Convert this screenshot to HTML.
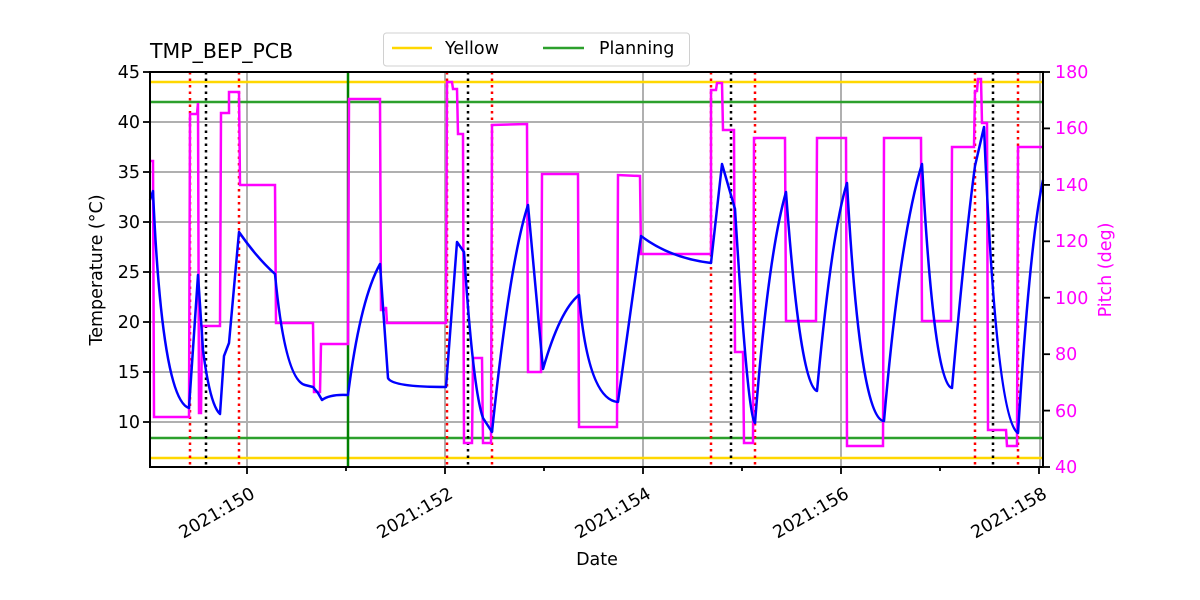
<!DOCTYPE html>
<html><head><meta charset="utf-8"><style>
html,body{margin:0;padding:0;background:#fff;}
svg{display:block;font-family:"DejaVu Sans","Liberation Sans",sans-serif;}
</style></head><body>
<svg width="1200" height="600" viewBox="0 0 1200 600" xmlns="http://www.w3.org/2000/svg">
<rect width="1200" height="600" fill="#fff"/>
<g stroke="#b0b0b0" stroke-width="2">
<line x1="150" y1="422" x2="1043" y2="422"/>
<line x1="150" y1="372" x2="1043" y2="372"/>
<line x1="150" y1="322" x2="1043" y2="322"/>
<line x1="150" y1="272" x2="1043" y2="272"/>
<line x1="150" y1="222" x2="1043" y2="222"/>
<line x1="150" y1="172" x2="1043" y2="172"/>
<line x1="150" y1="122" x2="1043" y2="122"/>
<line x1="247" y1="72" x2="247" y2="467"/>
<line x1="445" y1="72" x2="445" y2="467"/>
<line x1="643" y1="72" x2="643" y2="467"/>
<line x1="841" y1="72" x2="841" y2="467"/>
<line x1="1040" y1="72" x2="1040" y2="467"/>
</g>
<line x1="150" y1="82" x2="1043" y2="82" stroke="#ffd700" stroke-width="2.5"/>
<line x1="150" y1="458" x2="1043" y2="458" stroke="#ffd700" stroke-width="2.5"/>
<line x1="150" y1="102" x2="1043" y2="102" stroke="#2ca02c" stroke-width="2.5"/>
<line x1="150" y1="438" x2="1043" y2="438" stroke="#2ca02c" stroke-width="2.5"/>
<line x1="348" y1="72" x2="348" y2="467" stroke="#008000" stroke-width="2.5"/>
<g stroke="#ff0000" stroke-width="2.5" stroke-dasharray="2.5,4">
<line x1="190" y1="72" x2="190" y2="467"/>
<line x1="239" y1="72" x2="239" y2="467"/>
<line x1="447" y1="72" x2="447" y2="467"/>
<line x1="492" y1="72" x2="492" y2="467"/>
<line x1="711" y1="72" x2="711" y2="467"/>
<line x1="755" y1="72" x2="755" y2="467"/>
<line x1="975" y1="72" x2="975" y2="467"/>
<line x1="1018" y1="72" x2="1018" y2="467"/>
</g>
<g stroke="#000" stroke-width="2.5" stroke-dasharray="2.5,4">
<line x1="206" y1="72" x2="206" y2="467"/>
<line x1="468" y1="72" x2="468" y2="467"/>
<line x1="731" y1="72" x2="731" y2="467"/>
<line x1="993" y1="72" x2="993" y2="467"/>
</g>
<polyline fill="none" stroke="#ff00ff" stroke-width="2.5" stroke-linejoin="miter" points="
150,161 153,161 154,417 189,417 190,114 197,114 198,103 199,413 201,413 202,326 220,326 221,113 229,113 229,92 239,92 240,185 275,185 276,323 313,323 314,392 320,392 321,344 348,344 349,99 380,99 381,310 385,310 386,307 387,323 446,323 447,82 452,82 453,89 457,89 458,134 463,134 464,443 472,443 473,358 482,358 483,443 491,443 492,125 527,124 528,372 541,372 542,174 578,174 579,427 617,427 618,175 640,176 641,254 711,254 711,90 716,90 717,83 722,83 723,130 734,130 735,352 743,352 744,443 753,443 754,138 785,138 786,321 816,321 817,138 846,138 847,446 883,446 884,138 921,138 922,321 951,321 952,147 974,147 975,91 977,91 978,79 981,79 982,123 987,123 988,430 1006,430 1007,446 1017,446 1018,147 1043,147"/>
<path fill="none" stroke="#0000ff" stroke-width="2.5" stroke-linejoin="round" d="
M150,200 L153,191 Q162,400 189,408
L198,275 L203,350 Q210,405 220,414
L224,356 L229,343 L239,232 Q257,258 275,274
Q285,380 305,385 L313,387 L318,393 L322,400 Q330,394 348,395
Q360,300 380,264 L388,378 Q392,387 446,387
L457,242 L464,252 Q473,390 483,418 L492,432
Q510,260 528,205 L543,369 Q560,310 579,295
Q588,400 618,402 L641,236 Q670,258 711,263
L722,164 L735,209 Q748,420 755,423
Q768,255 786,192 Q800,385 817,391
Q832,230 847,183 Q860,420 884,421
Q900,235 922,164 Q934,385 952,388
Q965,240 975,166 L984,127 Q996,420 1018,433
Q1030,240 1043,180"/>
<rect x="150" y="72" width="893" height="395" fill="none" stroke="#000" stroke-width="2"/>
<g stroke="#000" stroke-width="1.8">
<line x1="143" y1="72" x2="150" y2="72"/><line x1="143" y1="122" x2="150" y2="122"/>
<line x1="143" y1="172" x2="150" y2="172"/><line x1="143" y1="222" x2="150" y2="222"/>
<line x1="143" y1="272" x2="150" y2="272"/><line x1="143" y1="322" x2="150" y2="322"/>
<line x1="143" y1="372" x2="150" y2="372"/><line x1="143" y1="422" x2="150" y2="422"/>
<line x1="1043" y1="72" x2="1050" y2="72"/><line x1="1043" y1="128.4" x2="1050" y2="128.4"/>
<line x1="1043" y1="184.9" x2="1050" y2="184.9"/><line x1="1043" y1="241.3" x2="1050" y2="241.3"/>
<line x1="1043" y1="297.7" x2="1050" y2="297.7"/><line x1="1043" y1="354.2" x2="1050" y2="354.2"/>
<line x1="1043" y1="410.6" x2="1050" y2="410.6"/><line x1="1043" y1="467" x2="1050" y2="467"/>
<line x1="247" y1="467" x2="247" y2="474"/><line x1="445" y1="467" x2="445" y2="474"/>
<line x1="643" y1="467" x2="643" y2="474"/><line x1="841" y1="467" x2="841" y2="474"/>
<line x1="1039" y1="467" x2="1039" y2="474"/>
<line x1="346" y1="467" x2="346" y2="471"/><line x1="544" y1="467" x2="544" y2="471"/>
<line x1="742" y1="467" x2="742" y2="471"/><line x1="940" y1="467" x2="940" y2="471"/>
</g>
<g font-size="17.5" fill="#000" text-anchor="end">
<text x="140" y="78">45</text><text x="140" y="128">40</text><text x="140" y="178">35</text>
<text x="140" y="228">30</text><text x="140" y="278">25</text><text x="140" y="328">20</text>
<text x="140" y="378">15</text><text x="140" y="428">10</text>
</g>
<g font-size="17.5" fill="#ff00ff">
<text x="1055" y="78">180</text><text x="1055" y="134">160</text><text x="1055" y="191">140</text>
<text x="1055" y="247">120</text><text x="1055" y="304">100</text><text x="1055" y="360">80</text>
<text x="1055" y="417">60</text><text x="1055" y="473">40</text>
</g>
<g font-size="17.5" fill="#000" text-anchor="end">
<text transform="translate(256,497) rotate(-30)">2021:150</text>
<text transform="translate(454,497) rotate(-30)">2021:152</text>
<text transform="translate(652,497) rotate(-30)">2021:154</text>
<text transform="translate(850,497) rotate(-30)">2021:156</text>
<text transform="translate(1048,497) rotate(-30)">2021:158</text>
</g>
<text x="597" y="565" font-size="17.5" text-anchor="middle">Date</text>
<text transform="translate(102,270) rotate(-90)" font-size="17.5" text-anchor="middle">Temperature (<tspan font-style="italic">°</tspan>C)</text>
<text transform="translate(1111,270) rotate(-90)" font-size="17.5" fill="#ff00ff" text-anchor="middle">Pitch (deg)</text>
<text x="150" y="58" font-size="20.5">TMP_BEP_PCB</text>
<rect x="383.5" y="33" width="306" height="33" rx="3" fill="#fff" stroke="#d0d0d0" stroke-width="1"/>
<line x1="392" y1="48" x2="432" y2="48" stroke="#ffd700" stroke-width="2.5"/>
<text x="445" y="54" font-size="17.5">Yellow</text>
<line x1="543" y1="48" x2="584" y2="48" stroke="#2ca02c" stroke-width="2.5"/>
<text x="599" y="54" font-size="17.5">Planning</text>
</svg>
</body></html>
